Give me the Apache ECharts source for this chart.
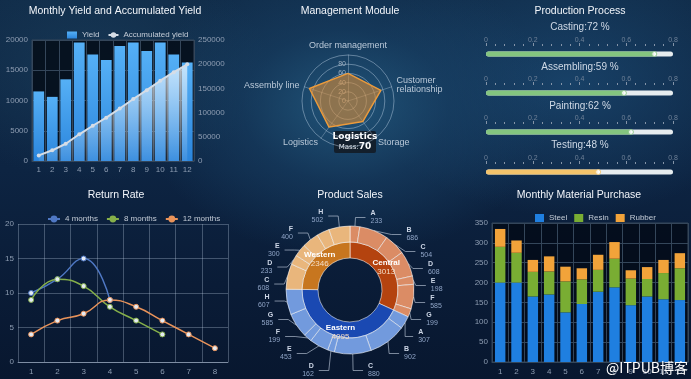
<!DOCTYPE html>
<html><head><meta charset="utf-8">
<script src="https://cdn.jsdelivr.net/npm/echarts@6/dist/echarts.min.js"></script>
<style>
html,body{margin:0;padding:0;width:691px;height:379px;overflow:hidden;}
body{background:
 radial-gradient(ellipse 30% 40% at 50% 28%, rgba(36,92,130,0.85) 0%, rgba(26,70,108,0.5) 50%, rgba(0,0,0,0) 100%),
 radial-gradient(ellipse 30% 35% at 82% 22%, rgba(28,76,118,0.7) 0%, rgba(0,0,0,0) 100%),
 radial-gradient(ellipse 25% 30% at 14% 18%, rgba(30,70,100,0.5) 0%, rgba(0,0,0,0) 100%),
 linear-gradient(180deg, #102b48 0%, #0d2442 45%, #0a1c37 75%, #08172f 100%);}
#c{width:691px;height:379px;}
</style></head><body><div id="c"></div>
<script>
// ---- data ----
const months = ['1','2','3','4','5','6','7','8','9','10','11','12'];
const yieldValues = [11500,10600,13500,19600,17600,16700,19000,19600,18200,19600,17600,16300];
const accumulatedValues = [11500,22100,35600,55200,72800,89500,108500,128100,146300,165900,183500,199800];

// radar indicators listed in ECharts drawing order (counter-clockwise from top)
const radarIndicators = ['Order management','Assembly line','Logistics','Storage','Customer\nrelationship'];
const radarValues = [60,88,70,55,75];

const processNames = ['Casting','Assembling','Painting','Testing'];
const processValues = [0.72,0.59,0.62,0.48];

const returnCategories = ['1','2','3','4','5','6','7','8'];
const return4 = [10,12,15,9];
const return8 = [9,12,11,8,6,4];
const return12 = [4,6,7,9,8,6,4,2];

const regionNames = ['Central','Eastern','Western'];
const regionValues = [3013,4095,2346];
const centralProducts = ['A','B','C','D','E','F','G'];
const centralValues = [233,686,504,608,198,585,199];
const easternProducts = ['A','B','C','D','E','F','G','H'];
const easternValues = [307,902,880,162,453,199,585,607];
const westernProducts = ['C','D','E','F','G','H'];
const westernValues = [608,233,300,400,303,502];
const westernHiddenLabel = ['G'];

const steel = [200,200,165,170,125,146,177,188,143,165,158,156];
const resin = [90,75,62,58,78,62,55,72,67,44,66,80];
const rubber = [45,31,30,38,37,28,38,42,21,30,33,38];

// ---- styles ----
const axisTxt = '#8e9db2';
const gridLine = '#34465a';
const procColors = ['#84c57f','#84c57f','#84c57f','#f3c36b'];
const procCenters = [54,93,132,172];
const procLabelY = [27,67,106,145];
const plain = v => String(v);

const chart = echarts.init(document.getElementById('c'), null, {renderer:'canvas'});

const grids = [
  {left:32, top:40, width:162, height:121, show:true, backgroundColor:'rgba(3,9,18,0.78)', borderColor:gridLine, borderWidth:1}
];
procCenters.forEach(c => grids.push({left:486, width:187, top:c-8, height:16}));
grids.push({left:18, top:224, width:210, height:138});
grids.push({left:492, top:223, width:196, height:139, show:true, backgroundColor:'rgba(3,9,20,0.78)', borderColor:gridLine, borderWidth:1});

const xAxes = [
  {type:'category', gridIndex:0, data:months, axisTick:{show:false},
   axisLine:{lineStyle:{color:gridLine}}, splitLine:{show:true, lineStyle:{color:gridLine}},
   axisLabel:{color:axisTxt, fontSize:8, margin:5}}
];
const yAxes = [
  {type:'value', gridIndex:0, min:0, max:20000, interval:5000, axisLabel:{color:axisTxt, fontSize:8, margin:4, formatter:plain},
   splitLine:{lineStyle:{color:gridLine}}, axisLine:{show:false}},
  {type:'value', gridIndex:0, position:'right', min:0, max:250000, interval:50000, axisLabel:{color:axisTxt, fontSize:8, margin:4, formatter:plain},
   splitLine:{show:false}, axisLine:{show:false}}
];
const series = [
  {name:'Yield', type:'bar', xAxisIndex:0, yAxisIndex:0, data:yieldValues, barWidth:'80%',
   itemStyle:{color:new echarts.graphic.LinearGradient(0,0,0,1,[{offset:0,color:'#55b0f6'},{offset:1,color:'#2b85dc'}])}},
  {name:'Accumulated yield', type:'line', xAxisIndex:0, yAxisIndex:1, data:accumulatedValues,
   symbol:'circle', symbolSize:4, itemStyle:{color:'#d6dde6'}, lineStyle:{color:'#d6dde6', width:2},
   areaStyle:{color:new echarts.graphic.LinearGradient(0,0,0,1,[{offset:0,color:'rgba(255,255,255,0.95)'},{offset:1,color:'rgba(255,255,255,0.12)'}])}}
];

processValues.forEach((v,i) => {
  xAxes.push({type:'value', gridIndex:i+1, position:'top', min:0, max:0.8, interval:0.2,
    axisLine:{show:false}, splitLine:{show:false},
    axisTick:{show:true, length:3, lineStyle:{color:'#8494a8'}},
    minorTick:{show:true, splitNumber:5, length:2, lineStyle:{color:'#8494a8'}},
    axisLabel:{color:'#6e8097', fontSize:7, margin:2, formatter:plain}});
  yAxes.push({type:'category', gridIndex:i+1, data:[processNames[i]], show:false});
  series.push({type:'bar', xAxisIndex:i+1, yAxisIndex:i+2, data:[v], barWidth:5,
    showBackground:true, backgroundStyle:{color:'#e6ecef', borderRadius:3},
    itemStyle:{color:procColors[i], borderRadius:3}, silent:true});
  series.push({type:'scatter', xAxisIndex:i+1, yAxisIndex:i+2, data:[[v,0]], symbolSize:5,
    itemStyle:{color:'#ffffff', borderColor:procColors[i], borderWidth:1}, silent:true, z:5});
});

// return rate
xAxes.push({type:'category', gridIndex:5, data:returnCategories, boundaryGap:true, axisTick:{show:false},
  axisLine:{lineStyle:{color:'rgba(200,215,235,0.45)'}}, splitLine:{show:true, lineStyle:{color:'rgba(200,215,235,0.3)'}},
  axisLabel:{color:axisTxt, fontSize:8, margin:6}});
yAxes.push({type:'value', gridIndex:5, min:0, max:20, interval:5, axisLine:{show:false},
  splitLine:{lineStyle:{color:'rgba(200,215,235,0.3)'}}, axisLabel:{color:axisTxt, fontSize:8, margin:4}});
const retSeries = [['4 months',return4,'#4f78c4'],['8 months',return8,'#86b04a'],['12 months',return12,'#e9935a']];
retSeries.forEach(([n,d,c]) => series.push({name:n, type:'line', xAxisIndex:5, yAxisIndex:6, data:d, smooth:true,
  symbol:'circle', symbolSize:5, lineStyle:{color:c, width:1.5}, itemStyle:{color:'#e4ebf4', borderColor:c, borderWidth:1}}));

// material purchase
xAxes.push({type:'category', gridIndex:6, data:months, axisTick:{show:false},
  axisLine:{lineStyle:{color:gridLine}}, splitLine:{show:true, lineStyle:{color:gridLine}},
  axisLabel:{color:axisTxt, fontSize:8, margin:6}});
yAxes.push({type:'value', gridIndex:6, min:0, max:350, interval:50, axisLine:{show:false},
  splitLine:{lineStyle:{color:gridLine}}, axisLabel:{color:axisTxt, fontSize:8, margin:4}});
[['Steel',steel,'#1f7fe0'],['Resin',resin,'#79ad33'],['Rubber',rubber,'#f2a33a']].forEach(([n,d,c]) =>
  series.push({name:n, type:'bar', stack:'m', xAxisIndex:6, yAxisIndex:7, data:d, barWidth:'64%', itemStyle:{color:c}}));

// radar
series.push({type:'radar', radarIndex:0, symbol:'none',
  lineStyle:{color:'#f0a040', width:1.5}, areaStyle:{color:'rgba(224,142,50,0.82)'},
  data:[{value:radarValues, name:'Mass'}]});

// pies
const innerColors = {Central:'#b4430f', Eastern:'#1a49b2', Western:'#c7761f'};
const outerColors = {Central:'#db8c65', Eastern:'#729add', Western:'#e9b67c'};
const innerData = regionNames.map((n,i) => ({name:n, value:regionValues[i], itemStyle:{color:innerColors[n]}}));
const outerData = [];
centralProducts.forEach((p,i) => outerData.push({name:p, value:centralValues[i], itemStyle:{color:outerColors.Central}}));
easternProducts.forEach((p,i) => outerData.push({name:p, value:easternValues[i], itemStyle:{color:outerColors.Eastern}}));
westernProducts.forEach((p,i) => {
  const it = {name:p, value:westernValues[i], itemStyle:{color:outerColors.Western}};
  if (westernHiddenLabel.includes(p)) { it.label = {show:false}; it.labelLine = {show:false}; }
  outerData.push(it);
});
series.push({type:'pie', center:[350,290], radius:[32,48], startAngle:90, clockwise:true, silent:true,
  itemStyle:{borderColor:'rgba(255,255,255,0.55)', borderWidth:1},
  label:{position:'inside', formatter:'{n|{b}}\n{v|{c}}', rich:{n:{color:'#ffffff', fontWeight:'bold', fontSize:8, lineHeight:9}, v:{color:'#f3dcc6', fontSize:8, lineHeight:9}}},
  labelLine:{show:false}, data:innerData});
series.push({type:'pie', center:[350,290], radius:[48,64], startAngle:90, clockwise:true, silent:true,
  avoidLabelOverlap:true,
  itemStyle:{borderColor:'rgba(255,255,255,0.55)', borderWidth:1},
  label:{formatter:'{n|{b}}\n{v|{c}}', rich:{n:{color:'#cdd6e6', fontWeight:'bold', fontSize:7, lineHeight:8}, v:{color:'#8fa4c6', fontSize:7, lineHeight:8}}},
  labelLine:{length:7, length2:10, lineStyle:{color:'rgba(200,212,228,0.6)', width:1}}, data:outerData});

// graphic texts
const titles = [
  ['Monthly Yield and Accumulated Yield',115,11],['Management Module',350,11],['Production Process',580,11],
  ['Return Rate',116,195],['Product Sales',350,195],['Monthly Material Purchase',579,195]
];
const graphics = titles.map(([t,x,y]) => ({type:'text', x, y, silent:true,
  style:{text:t, fill:'#f2f5fa', fontSize:10.5, fontFamily:'Liberation Sans, Arial, sans-serif', align:'center', verticalAlign:'middle'}}));
processNames.forEach((n,i) => graphics.push({type:'text', x:580, y:procLabelY[i], silent:true,
  style:{text:n + ':' + Math.round(processValues[i]*100) + ' %', fill:'#cfd9e6', fontSize:10, fontFamily:'Liberation Sans, Arial, sans-serif', align:'center', verticalAlign:'middle'}}));
// radar tooltip
const tipIdx = 2;
graphics.push({type:'group', x:334, y:131, silent:true, z:50, children:[
  {type:'rect', shape:{x:0, y:0, width:42, height:22, r:2}, style:{fill:'rgba(18,26,36,0.88)'}},
  {type:'text', x:21, y:6, style:{text:radarIndicators[tipIdx], fill:'#ffffff', fontSize:9, fontWeight:'bold', align:'center', verticalAlign:'middle', fontFamily:'DejaVu Sans, sans-serif'}},
  {type:'text', x:21, y:16, style:{text:'{a|Mass:}{b|' + radarValues[tipIdx] + '}', rich:{a:{fill:'#e8ecf2', fontSize:7, fontFamily:'DejaVu Sans, sans-serif'}, b:{fill:'#ffffff', fontSize:9, fontWeight:'bold', fontFamily:'DejaVu Sans, sans-serif'}}, align:'center', verticalAlign:'middle'}}
]});
graphics.push({type:'text', right:3, bottom:4, z:100, silent:true,
  style:{text:'@ITPUB博客', fill:'#ffffff', fontSize:14, fontFamily:'Noto Sans CJK SC, sans-serif',
  shadowColor:'rgba(0,0,0,0.8)', shadowBlur:3}});

const option = {
  backgroundColor:'transparent',
  animation:false,
  textStyle:{fontFamily:'Liberation Sans, Arial, sans-serif'},
  grid:grids, xAxis:xAxes, yAxis:yAxes,
  legend:[
    {left:62, top:26, itemWidth:10, itemHeight:7, itemGap:8, textStyle:{color:'#c3cbd6', fontSize:8},
     data:[{name:'Yield', icon:'rect'}, {name:'Accumulated yield'}]},
    {left:42, top:210, itemWidth:12, itemHeight:6, itemGap:8, textStyle:{color:'#c3cbd6', fontSize:8},
     data:retSeries.map(([n,,c]) => ({name:n, itemStyle:{color:c, borderColor:c}}))},
    {left:530, top:209, itemWidth:9, itemHeight:8, itemGap:7, icon:'rect', textStyle:{color:'#c3cbd6', fontSize:8},
     data:['Steel','Resin','Rubber']}
  ],
  radar:{center:[348,101], radius:46, shape:'circle', splitNumber:5, startAngle:90,
    indicator:radarIndicators.map((n,i) => i===0 ? {name:n, max:100, axisLabel:{show:true}} : {name:n, max:100}),
    axisName:{color:'#b9c8d8', fontSize:9}, nameGap:5,
    axisLabel:{show:false, color:'#9fb0c2', fontSize:7, showMaxLabel:false, margin:2},
    splitLine:{lineStyle:{color:'rgba(190,210,230,0.45)'}},
    splitArea:{show:false},
    axisLine:{lineStyle:{color:'rgba(190,210,230,0.35)'}}},
  series:series,
  graphic:graphics
};
chart.setOption(option);
</script></body></html>
